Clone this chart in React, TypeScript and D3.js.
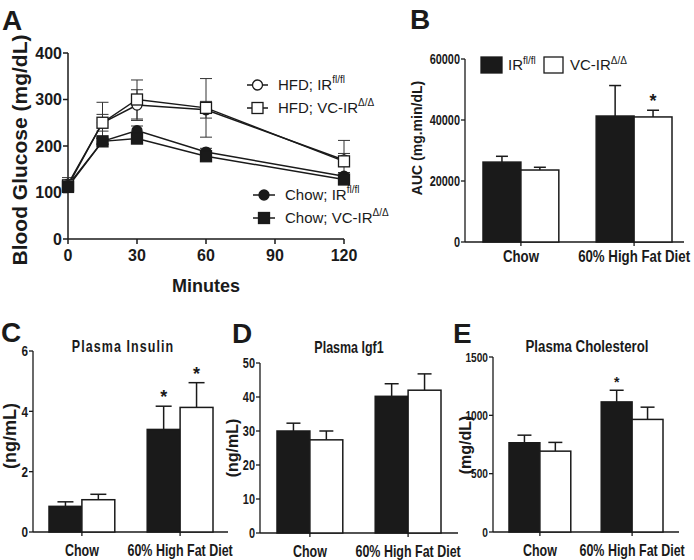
import React from "react";
import * as d3 from "d3";

// ---------- Data ----------
const timepoints = [0, 15, 30, 60, 120];
const glucoseTicksY = [0, 100, 200, 300, 400];
const glucoseTicksX = [0, 30, 60, 90, 120];
const hfdIR = [118, 250, 288, 278, 170];
const hfdIRErr = [14, 18, 33, 18, 14];
const hfdVC = [115, 250, 300, 282, 167];
const hfdVCErr = [12, 44, 42, 63, 45];
const chowIR = [115, 210, 233, 187, 135];
const chowIRErr = [8, 7, 10, 8, 8];
const chowVC = [112, 210, 216, 178, 128];
const chowVCErr = [8, 6, 6, 6, 6];

const groups = ["Chow", "60% High Fat Diet"];
const genotypes = ["IR", "VC"];

const aucIR = [26200, 41300];
const aucIRErr = [1900, 10000];
const aucVC = [23600, 41000];
const aucVCErr = [900, 2200];
const aucTicks = [0, 20000, 40000, 60000];
const aucStarsIR = [false, false];
const aucStarsVC = [false, true];

const insIR = [0.85, 3.4];
const insIRErr = [0.15, 0.77];
const insVC = [1.07, 4.13];
const insVCErr = [0.18, 0.82];
const insTicks = [0, 2, 4, 6];
const insStarsIR = [false, true];
const insStarsVC = [false, true];

const igfIR = [30.0, 40.2];
const igfIRErr = [2.3, 3.7];
const igfVC = [27.4, 42.0];
const igfVCErr = [2.6, 4.8];
const igfTicks = [0, 10, 20, 30, 40, 50];
const igfStarsIR = [false, false];
const igfStarsVC = [false, false];

const cholIR = [765, 1115];
const cholIRErr = [65, 100];
const cholVC = [693, 965];
const cholVCErr = [75, 105];
const cholTicks = [0, 500, 1000, 1500];
const cholStarsIR = [false, true];
const cholStarsVC = [false, false];

const SANS = "'Liberation Sans', Arial, sans-serif";
const INK = "#1a1a1a";

type TProps = {
  x: number;
  y: number;
  size: number;
  sx?: number;
  rot?: number;
  anchor?: "start" | "middle" | "end";
  bold?: boolean;
  dy?: string;
  ls?: number;
  children: React.ReactNode;
};

function T({ x, y, size, sx = 1, rot = 0, anchor = "start", bold = true, dy, ls, children }: TProps) {
  return (
    <text
      transform={`translate(${x},${y}) rotate(${rot}) scale(${sx},1)`}
      textAnchor={anchor}
      dy={dy}
      fontFamily={SANS}
      fontWeight={bold ? "bold" : "normal"}
      fontSize={size}
      letterSpacing={ls}
      fill={INK}
    >
      {children}
    </text>
  );
}

const NX = 0.78;

// ---------- Panel A ----------
function GlucosePanel() {
  const x = d3.scaleLinear().domain([0, 120]).range([68, 344]);
  const y = d3.scaleLinear().domain([0, 400]).range([239, 53]);
  const line = d3
    .line<number>()
    .x((_, i) => x(timepoints[i]))
    .y((d) => y(d));
  const seriesList = [
    { vals: hfdIR, err: hfdIRErr, shape: "circle", fill: "white" },
    { vals: hfdVC, err: hfdVCErr, shape: "square", fill: "white" },
    { vals: chowIR, err: chowIRErr, shape: "circle", fill: INK },
    { vals: chowVC, err: chowVCErr, shape: "square", fill: INK },
  ];
  const marker = (shape: string, fill: string, cx: number, cy: number, key: string) =>
    shape === "circle" ? (
      <circle key={key} cx={cx} cy={cy} r={5} fill={fill} stroke={INK} strokeWidth={1.3} />
    ) : (
      <rect key={key} x={cx - 5.5} y={cy - 5.5} width={11} height={11} fill={fill} stroke={INK} strokeWidth={1.3} />
    );
  const legend = [
    { shape: "circle", fill: "white", y: 85, x0: 247, x1: 268, tx: 278, label: "HFD; IR", sup: "fl/fl" },
    { shape: "square", fill: "white", y: 108, x0: 247, x1: 268, tx: 278, label: "HFD; VC-IR", sup: "Δ/Δ" },
    { shape: "circle", fill: INK, y: 195, x0: 253, x1: 275, tx: 285, label: "Chow; IR", sup: "fl/fl" },
    { shape: "square", fill: INK, y: 218, x0: 253, x1: 275, tx: 285, label: "Chow; VC-IR", sup: "Δ/Δ" },
  ];
  return (
    <g>
      <T x={2} y={30} size={28}>A</T>
      <line x1={68} x2={68} y1={y(0)} y2={y(400)} stroke={INK} strokeWidth={1.5} />
      <line x1={68} x2={x(120)} y1={239} y2={239} stroke={INK} strokeWidth={1.5} />
      {glucoseTicksY.map((t) => (
        <g key={"yt" + t}>
          <line x1={63} x2={68} y1={y(t)} y2={y(t)} stroke={INK} strokeWidth={1.5} />
          <T x={62} y={y(t)} dy="0.36em" anchor="end" size={16}>{t}</T>
        </g>
      ))}
      {glucoseTicksX.map((t) => (
        <g key={"xt" + t}>
          <line x1={x(t)} x2={x(t)} y1={239} y2={244} stroke={INK} strokeWidth={1.5} />
          <T x={x(t)} y={261} anchor="middle" size={16}>{t}</T>
        </g>
      ))}
      <T x={206} y={292} anchor="middle" size={18}>Minutes</T>
      <T x={27} y={150} rot={-90} anchor="middle" size={21}>Blood Glucose (mg/dL)</T>
      {seriesList.map((s, si) =>
        s.vals.map((v, i) => {
          const cx = x(timepoints[i]);
          const hi = y(v + s.err[i]);
          const lo = y(v - s.err[i]);
          return (
            <g key={"e" + si + "-" + i} stroke="#333" strokeWidth={1}>
              <line x1={cx} x2={cx} y1={hi} y2={lo} />
              <line x1={cx - 6} x2={cx + 6} y1={hi} y2={hi} />
              <line x1={cx - 6} x2={cx + 6} y1={lo} y2={lo} />
            </g>
          );
        })
      )}
      {seriesList.map((s, si) => (
        <path key={"l" + si} d={line(s.vals) || ""} fill="none" stroke={INK} strokeWidth={1.5} />
      ))}
      {seriesList.map((s, si) =>
        s.vals.map((v, i) => marker(s.shape, s.fill, x(timepoints[i]), y(v), "m" + si + "-" + i))
      )}
      {legend.map((l, i) => (
        <g key={"lg" + i}>
          <line x1={l.x0} x2={l.x1} y1={l.y} y2={l.y} stroke={INK} strokeWidth={1.5} />
          {marker(l.shape, l.fill, (l.x0 + l.x1) / 2, l.y, "lm" + i)}
          <text x={l.tx} y={l.y} dy="0.36em" fontFamily={SANS} fontSize={15} fill={INK}>
            {l.label}
            <tspan dy={-7} fontSize={10}>{l.sup}</tspan>
          </text>
        </g>
      ))}
    </g>
  );
}

// ---------- Generic bar panel ----------
type BarProps = {
  axisX: number;
  axisEnd: number;
  yTop: number;
  yBottom: number;
  max: number;
  ticks: number[];
  ir: number[];
  irErr: number[];
  vc: number[];
  vcErr: number[];
  starsIR: boolean[];
  starsVC: boolean[];
  groupRange: [number, number];
  tickFont: number;
  capW: number;
  catFont: number;
  catY: number;
  starSize: number;
};

function BarPanel(p: BarProps) {
  const y = d3.scaleLinear().domain([0, p.max]).range([p.yBottom, p.yTop]);
  const xg = d3.scaleBand<string>().domain(groups).range(p.groupRange).paddingInner(0.33).paddingOuter(0);
  const xs = d3.scaleBand<string>().domain(genotypes).range([0, xg.bandwidth()]).padding(0);
  const data = [
    { key: "IR", vals: p.ir, err: p.irErr, stars: p.starsIR, fill: INK },
    { key: "VC", vals: p.vc, err: p.vcErr, stars: p.starsVC, fill: "white" },
  ];
  return (
    <g>
      <line x1={p.axisX} x2={p.axisX} y1={p.yBottom} y2={p.yTop} stroke={INK} strokeWidth={1.3} />
      <line x1={p.axisX} x2={p.axisEnd} y1={p.yBottom} y2={p.yBottom} stroke={INK} strokeWidth={1.3} />
      {p.ticks.map((t) => (
        <g key={"t" + t}>
          <line x1={p.axisX - 4} x2={p.axisX} y1={y(t)} y2={y(t)} stroke={INK} strokeWidth={1.3} />
          <T x={p.axisX - 5} y={y(t)} dy="0.36em" anchor="end" size={p.tickFont} sx={NX}>{t}</T>
        </g>
      ))}
      {groups.map((g) => {
        const cx = (xg(g) || 0) + xg.bandwidth() / 2;
        return (
          <g key={"c" + g}>
            <line x1={cx} x2={cx} y1={p.yBottom} y2={p.yBottom + 4} stroke={INK} strokeWidth={1.3} />
            <T x={cx} y={p.catY} anchor="middle" size={p.catFont} sx={NX}>{g}</T>
          </g>
        );
      })}
      {data.map((s) =>
        groups.map((g, gi) => {
          const bx = (xg(g) || 0) + (xs(s.key) || 0);
          const bw = xs.bandwidth();
          const top = y(s.vals[gi]);
          const et = y(s.vals[gi] + s.err[gi]);
          const cx = bx + bw / 2;
          return (
            <g key={s.key + g}>
              <line x1={cx} x2={cx} y1={top} y2={et} stroke={INK} strokeWidth={1.5} />
              <line x1={cx - p.capW / 2} x2={cx + p.capW / 2} y1={et} y2={et} stroke={INK} strokeWidth={1.5} />
              <rect x={bx} y={top} width={bw} height={p.yBottom - top} fill={s.fill} stroke={INK} strokeWidth={1.5} />
              {s.stars[gi] && (
                <T x={cx} y={et - 3} anchor="middle" size={p.starSize}>*</T>
              )}
            </g>
          );
        })
      )}
    </g>
  );
}

export default function App() {
  return (
    <svg width={694} height={560} style={{ position: "absolute", left: 0, top: 0, background: "white" }}>
      <rect width={694} height={560} fill="white" />
      <GlucosePanel />

      {/* Panel B */}
      <T x={410} y={29} size={28}>B</T>
      <BarPanel
        axisX={465} axisEnd={684} yTop={59} yBottom={242} max={60000} ticks={aucTicks}
        ir={aucIR} irErr={aucIRErr} vc={aucVC} vcErr={aucVCErr}
        starsIR={aucStarsIR} starsVC={aucStarsVC}
        groupRange={[483, 672]} tickFont={14} capW={12} catFont={17} catY={262} starSize={18}
      />
      <T x={422} y={138} rot={-90} anchor="middle" size={14}>AUC (mg.min/dL)</T>
      <rect x={481} y={57} width={21} height={16} fill={INK} stroke={INK} strokeWidth={1.3} />
      <text x={508} y={70} fontFamily={SANS} fontSize={15} fill={INK}>IR<tspan dy={-6} fontSize={10}>fl/fl</tspan></text>
      <rect x={544} y={57} width={19} height={16} fill="white" stroke={INK} strokeWidth={1.3} />
      <text x={570} y={70} fontFamily={SANS} fontSize={15} fill={INK}>VC-IR<tspan dy={-6} fontSize={10}>Δ/Δ</tspan></text>

      {/* Panel C */}
      <T x={1} y={342} size={28}>C</T>
      <T x={123} y={352} anchor="middle" size={16} sx={NX} ls={1.4}>Plasma Insulin</T>
      <BarPanel
        axisX={33} axisEnd={228} yTop={351} yBottom={532} max={6} ticks={insTicks}
        ir={insIR} irErr={insIRErr} vc={insVC} vcErr={insVCErr}
        starsIR={insStarsIR} starsVC={insStarsVC}
        groupRange={[49, 213]} tickFont={15} capW={16} catFont={16} catY={556} starSize={18}
      />
      <T x={16} y={436} rot={-90} anchor="middle" size={18}>(ng/mL)</T>

      {/* Panel D */}
      <T x={232} y={343} size={28}>D</T>
      <T x={349} y={353} anchor="middle" size={16} sx={NX}>Plasma Igf1</T>
      <BarPanel
        axisX={260} axisEnd={458} yTop={363} yBottom={533} max={50} ticks={igfTicks}
        ir={igfIR} irErr={igfIRErr} vc={igfVC} vcErr={igfVCErr}
        starsIR={igfStarsIR} starsVC={igfStarsVC}
        groupRange={[277, 441]} tickFont={14} capW={14} catFont={16} catY={557} starSize={16}
      />
      <T x={238} y={448} rot={-90} anchor="middle" size={16}>(ng/mL)</T>

      {/* Panel E */}
      <T x={453} y={343} size={28}>E</T>
      <T x={587} y={352} anchor="middle" size={17} sx={NX}>Plasma Cholesterol</T>
      <BarPanel
        axisX={493} axisEnd={679} yTop={357} yBottom={532} max={1500} ticks={cholTicks}
        ir={cholIR} irErr={cholIRErr} vc={cholVC} vcErr={cholVCErr}
        starsIR={cholStarsIR} starsVC={cholStarsVC}
        groupRange={[509, 663]} tickFont={13} capW={14} catFont={16} catY={556} starSize={14}
      />
      <T x={471} y={445} rot={-90} anchor="middle" size={16}>(mg/dL)</T>
    </svg>
  );
}
